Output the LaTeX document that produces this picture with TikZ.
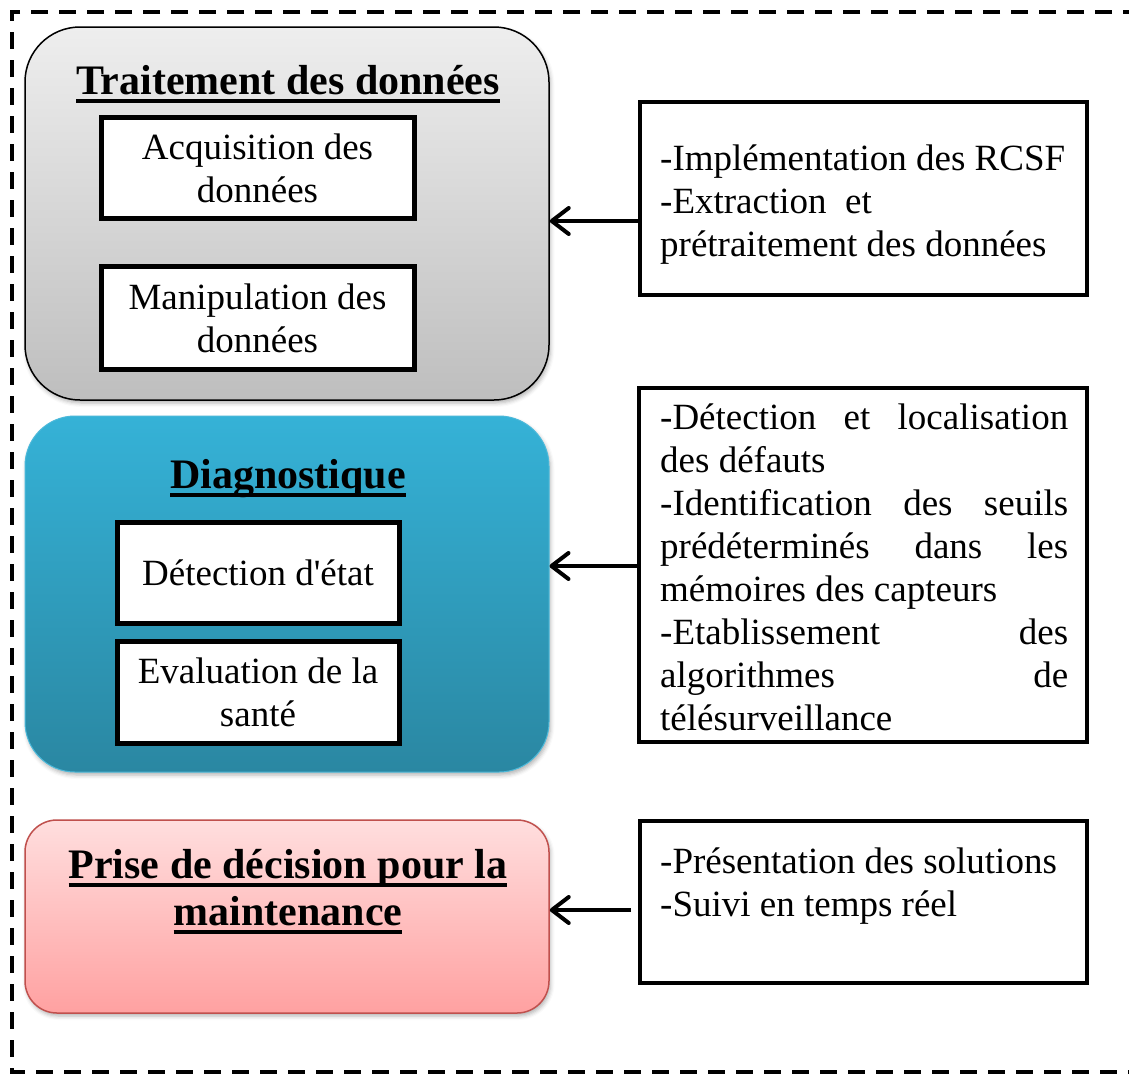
\documentclass[tikz,border=0pt]{standalone}
\usepackage{fontspec}
\setmainfont{Liberation Serif}[Ligatures=TeXOff]
\usetikzlibrary{arrows.meta,shadows.blur}

\definecolor{grayTop}{HTML}{EEEEEE}
\definecolor{grayBot}{HTML}{BEBEBE}
\definecolor{blueTop}{HTML}{35B2D7}
\definecolor{blueBot}{HTML}{2A87A2}
\definecolor{blueEdge}{HTML}{4CB9DA}
\definecolor{pinkTop}{HTML}{FFDEDE}
\definecolor{pinkBot}{HTML}{FFA1A1}
\definecolor{pinkEdge}{HTML}{C0504D}

% thick underline for the panel titles
\newsavebox\ttlbox
\newcommand\ttlline[1]{\sbox\ttlbox{#1}\rlap{\rule[-8.5pt]{\wd\ttlbox}{4pt}}\usebox\ttlbox}

\begin{document}
\begin{tikzpicture}[x=1pt,y=-1pt,
  txt/.style={font=\fontsize{37}{43}\selectfont},
  ttl/.style={font=\bfseries\fontsize{42}{47}\selectfont, anchor=base, inner sep=0pt, align=center},
  panel/.style={minimum width=524pt, inner sep=0pt,
    blur shadow={shadow xshift=1.5pt, shadow yshift=-3pt, shadow blur radius=4pt, shadow opacity=30}},
  inbox/.style={draw=black, line width=5pt, fill=white, txt, align=center, inner sep=0pt},
  notebox/.style={draw=black, line width=4pt, fill=white, inner sep=0pt},
  note/.style={txt, anchor=north west, inner sep=0pt, align=left},
  arr/.style={line width=4pt, -{Straight Barb[length=17pt,width=26pt,round]}},
  frame/.style={line width=4pt, dash pattern=on 17pt off 11pt}
]
\useasboundingbox (0,0) rectangle (1129,1074);

% outer dashed frame (open on the right)
\draw[frame] (1140,12) -- (12,12) -- (12,1072) -- (1140,1072);

% ---- panels ----
\node[panel, draw=black, line width=1.5pt, top color=grayTop, bottom color=grayBot,
      minimum height=373pt, rounded corners=55pt] (trait) at (287,213.5) {};
\node[panel, draw=blueEdge, line width=1pt, top color=blueTop, bottom color=blueBot,
      minimum height=356pt, rounded corners=50pt] (diag) at (287,594) {};
\node[panel, draw=pinkEdge, line width=1.5pt, top color=pinkTop, bottom color=pinkBot,
      minimum height=193pt, rounded corners=32pt] (dec) at (287,916.5) {};

% ---- panel titles ----
\node[ttl] (traitT) at (288,94) {\ttlline{Traitement des données}};
\node[ttl] (diagT) at (288,488) {\ttlline{Diagnostique}};
\node[ttl] (decT1) at (288,878) {\ttlline{Prise de décision pour la}};
\node[ttl] (decT2) at (288,925) {\ttlline{maintenance}};

% ---- inner boxes ----
\node[inbox, minimum width=313pt, minimum height=101pt] (acq) at (257.5,168)
  {Acquisition des\\données};
\node[inbox, minimum width=313pt, minimum height=103pt] (man) at (257.5,318)
  {Manipulation des\\données};
\node[inbox, minimum width=282pt, minimum height=101pt] (det) at (258,572.5)
  {Détection d'état};
\node[inbox, minimum width=282pt, minimum height=102pt] (eva) at (258,692.5)
  {Evaluation de la\\santé};

% ---- note boxes ----
\node[notebox, minimum width=447pt, minimum height=193pt] (r1) at (863.5,198.5) {};
\node[notebox, minimum width=448pt, minimum height=354pt] (r2) at (863,565) {};
\node[notebox, minimum width=447pt, minimum height=162pt] (r3) at (863.5,902) {};

\node[note] (r1t) at (660,145)
  {-Implémentation des RCSF\\-Extraction~ et\\prétraitement des données};
\node[note, text width=408pt, align=justify] (r2t) at (660,404)
  {-Détection et localisation\linebreak des défauts\\-Identification des seuils\linebreak
   prédéterminés dans les\linebreak mémoires des capteurs\\-Etablissement des\linebreak
   algorithmes de\linebreak télésurveillance};
\node[note] (r3t) at (660,848)
  {-Présentation des solutions\\-Suivi en temps réel};

% ---- connectors ----
\coordinate (y1) at (0,221);
\coordinate (y2) at (0,566);
\coordinate (y3) at (0,910);
\draw[arr] (r1.west |- y1) -- (trait.east |- y1);
\draw[arr] (r2.west |- y2) -- (diag.east |- y2);
\draw[arr, shorten <=7pt] (r3.west |- y3) -- (dec.east |- y3);
\end{tikzpicture}
\end{document}
